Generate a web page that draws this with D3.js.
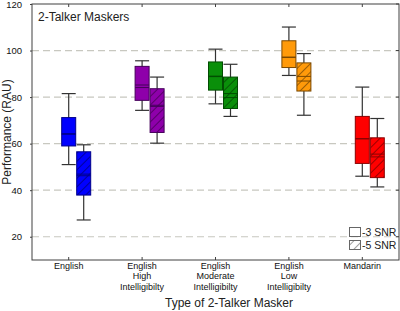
<!DOCTYPE html>
<html>
<head>
<meta charset="utf-8">
<script src="https://cdn.jsdelivr.net/npm/d3@7"></script>
<style>
  body { margin: 0; background: #fff; }
  svg { display: block; font-family: "Liberation Sans", Arial, sans-serif; }
</style>
</head>
<body>
<svg id="chart" width="400" height="311"></svg>
<script>
// Masker categories (lines of each tick label)
const categories = ["English", "English High Intelligibilty", "English Moderate Intelligibilty", "English Low Intelligibilty", "Mandarin"];
const categoryLines = [["English"], ["English", "High", "Intelligibilty"], ["English", "Moderate", "Intelligibilty"], ["English", "Low", "Intelligibilty"], ["Mandarin"]];
const yTicks = [20, 40, 60, 80, 100, 120];
const gridTicks = [20, 40, 60, 80, 100];

// -3 SNR boxes
const snr3Low    = [51.0, 74.3, 77.1, 89.3, 46.0];
const snr3Q1     = [59.0, 78.6, 83.0, 92.7, 51.5];
const snr3Median = [64.3, 85.2, 89.0, 97.2, 62.2];
const snr3Mean   = [64.0, 84.1, 88.8, 97.0, 62.0];
const snr3Q3     = [71.2, 93.2, 95.1, 104.2, 71.7];
const snr3High   = [81.5, 95.6, 100.6, 110.1, 84.3];

// -5 SNR boxes
const snr5Low    = [27.2, 60.2, 71.7, 72.2, 41.4];
const snr5Q1     = [37.9, 64.8, 75.1, 82.6, 45.4];
const snr5Median = [46.9, 76.5, 81.5, 88.9, 55.5];
const snr5Mean   = [46.2, 76.0, 79.8, 86.9, 54.3];
const snr5Q3     = [56.5, 83.6, 88.6, 94.7, 62.5];
const snr5High   = [59.5, 88.6, 94.1, 98.7, 70.8];

const fills   = ["#0000ff", "#8e00aa", "#0a8f0a", "#ff9a0a", "#ff0000"];
const strokes = ["#00008a", "#45005a", "#024d02", "#7a4800", "#8a0000"];

const svg = d3.select("#chart");
const plotLeft = 32, plotRight = 399, plotTop = 4, plotBottom = 260;

const x = d3.scaleBand().domain(categories).range([plotLeft, plotRight]);
const y = d3.scaleLinear().domain([10, 120]).range([plotBottom, plotTop]);

const boxW = 14;

// hatch pattern
const defs = svg.append("defs");
defs.append("pattern")
  .attr("id", "hatch")
  .attr("patternUnits", "userSpaceOnUse")
  .attr("width", 6).attr("height", 6)
  .attr("patternTransform", "rotate(45)")
  .append("line")
  .attr("x1", 0).attr("y1", 0).attr("x2", 0).attr("y2", 6)
  .attr("stroke", "#000").attr("stroke-opacity", 0.7).attr("stroke-width", 1.1);

// gridlines
svg.append("g").selectAll("line")
  .data(gridTicks)
  .join("line")
  .attr("x1", plotLeft).attr("x2", plotRight)
  .attr("y1", d => y(d)).attr("y2", d => y(d))
  .attr("stroke", "#c8c8c0")
  .attr("stroke-width", 1.2)
  .attr("stroke-dasharray", "7,4");

// frame
svg.append("rect")
  .attr("x", plotLeft).attr("y", plotTop)
  .attr("width", plotRight - plotLeft).attr("height", plotBottom - plotTop)
  .attr("fill", "none").attr("stroke", "#404040").attr("stroke-width", 1);

// y axis
const yAxis = svg.append("g")
  .attr("transform", `translate(${plotLeft},0)`)
  .call(d3.axisLeft(y).tickValues(yTicks).tickSize(2).tickPadding(8));
yAxis.select(".domain").remove();
yAxis.selectAll("line").attr("stroke", "#404040");
yAxis.selectAll("text").attr("font-size", 9.5).attr("fill", "#111").attr("font-family", "Liberation Sans");

// right ticks (inward)
svg.append("g").selectAll("line")
  .data(yTicks)
  .join("line")
  .attr("x1", plotRight - 3).attr("x2", plotRight)
  .attr("y1", d => y(d)).attr("y2", d => y(d))
  .attr("stroke", "#404040");

// top and bottom ticks (inward)
const centers = categories.map(c => x(c) + x.bandwidth() / 2);
svg.append("g").selectAll("line")
  .data(centers)
  .join("line")
  .attr("x1", d => d).attr("x2", d => d)
  .attr("y1", plotTop).attr("y2", plotTop + 3)
  .attr("stroke", "#404040");
svg.append("g").selectAll("line")
  .data(centers)
  .join("line")
  .attr("x1", d => d).attr("x2", d => d)
  .attr("y1", plotBottom - 3).attr("y2", plotBottom)
  .attr("stroke", "#404040");

// x tick labels
const xl = svg.append("g");
categories.forEach((c, i) => {
  const t = xl.append("text")
    .attr("x", centers[i])
    .attr("y", 269)
    .attr("text-anchor", "middle")
    .attr("font-size", 9)
    .attr("fill", "#111");
  categoryLines[i].forEach((line, j) => {
    t.append("tspan").attr("x", centers[i]).attr("dy", j === 0 ? 0 : 10.4).text(line);
  });
});

// boxes
function drawBoxes(series, offset, hatched) {
  const g = svg.append("g");
  categories.forEach((c, i) => {
    const cx = centers[i] + offset;
    const stroke = strokes[i];
    // whisker
    g.append("line")
      .attr("x1", cx).attr("x2", cx)
      .attr("y1", y(series.low[i])).attr("y2", y(series.high[i]))
      .attr("stroke", "#333").attr("stroke-width", 1.2);
    [series.low[i], series.high[i]].forEach(v => {
      g.append("line")
        .attr("x1", cx - boxW / 2).attr("x2", cx + boxW / 2)
        .attr("y1", y(v)).attr("y2", y(v))
        .attr("stroke", "#333").attr("stroke-width", 1.2);
    });
    // box
    g.append("rect")
      .attr("x", cx - boxW / 2).attr("width", boxW)
      .attr("y", y(series.q3[i])).attr("height", y(series.q1[i]) - y(series.q3[i]))
      .attr("fill", fills[i]);
    if (hatched) {
      g.append("rect")
        .attr("x", cx - boxW / 2).attr("width", boxW)
        .attr("y", y(series.q3[i])).attr("height", y(series.q1[i]) - y(series.q3[i]))
        .attr("fill", "url(#hatch)");
    }
    g.append("rect")
      .attr("x", cx - boxW / 2).attr("width", boxW)
      .attr("y", y(series.q3[i])).attr("height", y(series.q1[i]) - y(series.q3[i]))
      .attr("fill", "none").attr("stroke", stroke).attr("stroke-width", 1);
    [series.median[i], series.mean[i]].forEach(v => {
      g.append("line")
        .attr("x1", cx - boxW / 2).attr("x2", cx + boxW / 2)
        .attr("y1", y(v)).attr("y2", y(v))
        .attr("stroke", stroke).attr("stroke-width", 1);
    });
  });
}

drawBoxes({ low: snr3Low, q1: snr3Q1, median: snr3Median, mean: snr3Mean, q3: snr3Q3, high: snr3High }, 0, false);
drawBoxes({ low: snr5Low, q1: snr5Q1, median: snr5Median, mean: snr5Mean, q3: snr5Q3, high: snr5High }, 15, true);

// title inside plot
svg.append("text")
  .attr("x", 38).attr("y", 21)
  .attr("font-size", 12).attr("fill", "#222")
  .text("2-Talker Maskers");

// axis labels
svg.append("text")
  .attr("transform", `translate(10.5,${(plotTop + plotBottom) / 2}) rotate(-90)`)
  .attr("text-anchor", "middle")
  .attr("font-size", 12).attr("fill", "#222")
  .text("Performance (RAU)");

svg.append("text")
  .attr("x", 229).attr("y", 307)
  .attr("text-anchor", "middle")
  .attr("font-size", 12).attr("fill", "#222")
  .text("Type of 2-Talker Masker");

// legend
const legend = [{ label: "-3 SNR", hatched: false }, { label: "-5 SNR", hatched: true }];
const lg = svg.append("g");
legend.forEach((d, i) => {
  const ly = 227 + i * 13;
  lg.append("rect")
    .attr("x", 349.5).attr("y", ly + 0.5).attr("width", 11).attr("height", 9)
    .attr("fill", d.hatched ? "url(#hatch)" : "#fff")
    .attr("stroke", "#666");
  lg.append("text")
    .attr("x", 362).attr("y", ly + 8.5)
    .attr("font-size", 10.5).attr("fill", "#222")
    .text(d.label);
});
</script>
</body>
</html>
